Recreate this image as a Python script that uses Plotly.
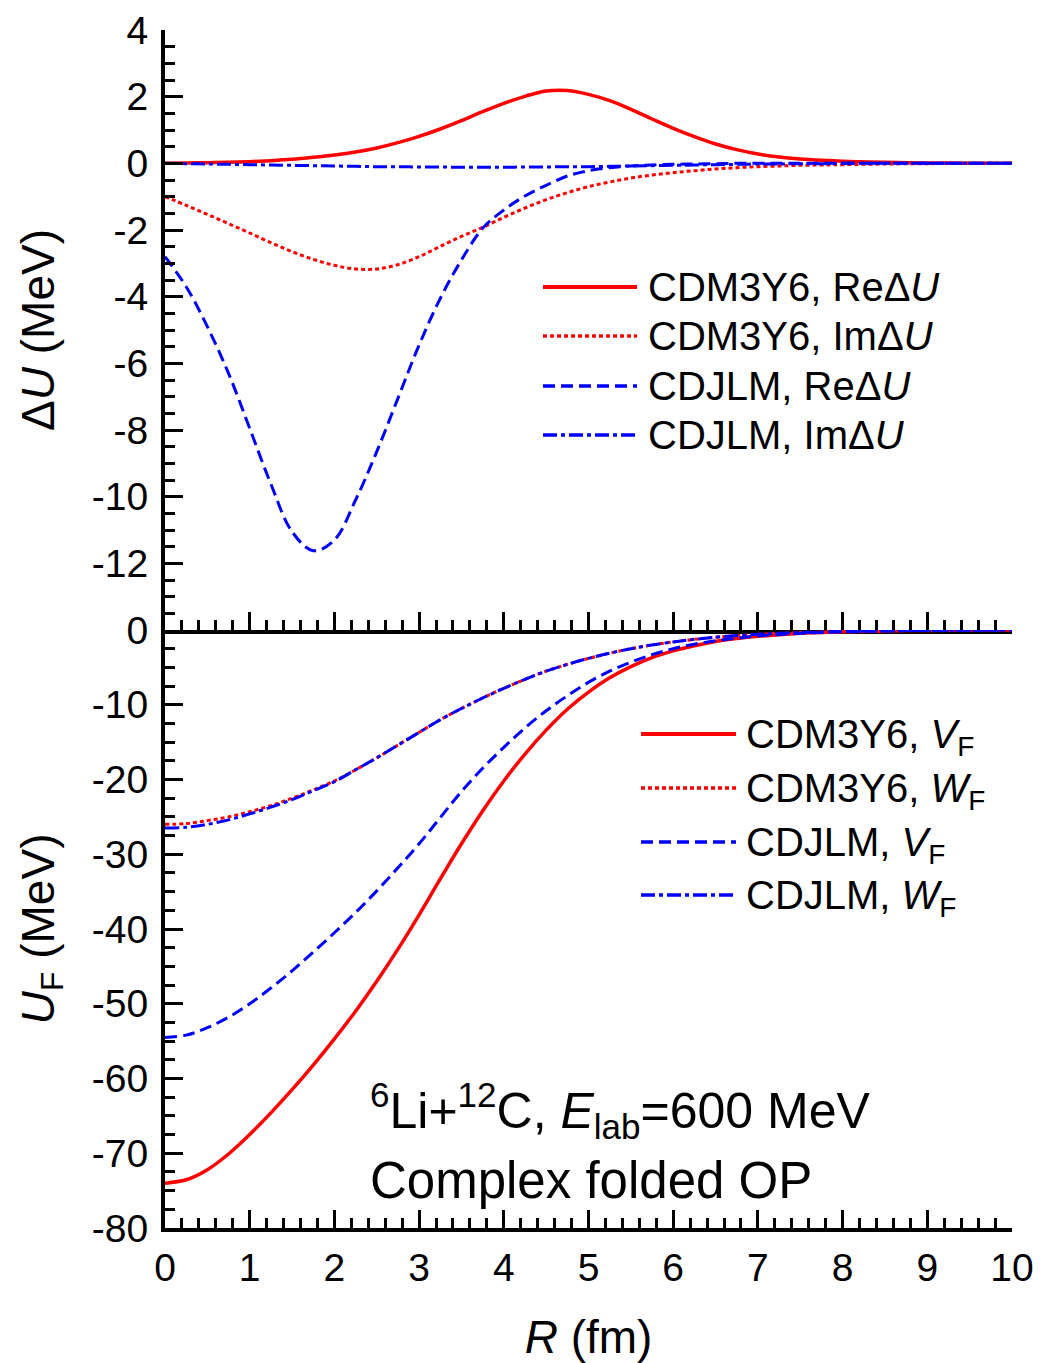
import plotly.graph_objects as go

# ---------------- data ----------------
R = [0, 0.25, 0.5, 0.75, 1, 1.25, 1.5, 1.75, 2, 2.25, 2.5, 2.75, 3, 3.25, 3.5, 3.75,
     4, 4.25, 4.5, 4.75, 5, 5.25, 5.5, 5.75, 6, 6.25, 6.5, 6.75, 7, 7.25, 7.5, 7.75,
     8, 8.5, 9, 9.5, 10]

# top panel: Delta U (MeV)
re_dU_cdm3y6 = [0.00, 0.01, 0.02, 0.03, 0.05, 0.08, 0.12, 0.18, 0.25, 0.34, 0.46, 0.62,
                0.81, 1.03, 1.28, 1.55, 1.80, 2.01, 2.17, 2.185, 2.07, 1.88, 1.62, 1.33,
                1.05, 0.80, 0.58, 0.41, 0.28, 0.19, 0.13, 0.09, 0.06, 0.03, 0.01, 0.005, 0.0]
im_dU_cdm3y6 = [-1.00, -1.26, -1.53, -1.81, -2.09, -2.38, -2.65, -2.88, -3.06, -3.17, -3.17,
                -3.04, -2.80, -2.49, -2.19, -1.92, -1.62, -1.34, -1.09, -0.88, -0.70, -0.56,
                -0.44, -0.35, -0.28, -0.22, -0.17, -0.13, -0.10, -0.08, -0.06, -0.05, -0.04,
                -0.02, -0.01, 0.0, 0.0]
re_dU_cdjlm = [-2.80, -3.70, -4.90, -6.30, -7.95, -9.62, -11.05, -11.62, -11.30, -10.10,
               -8.65, -7.05, -5.45, -4.05, -2.90, -1.95, -1.40, -0.98, -0.66, -0.38, -0.22,
               -0.13, -0.08, -0.05, -0.03, -0.02, -0.01, 0.0, 0.0, 0.0, 0.0, 0.0, 0.0,
               0.0, 0.0, 0.0, 0.0]
im_dU_cdjlm = [0.0, -0.01, -0.02, -0.03, -0.04, -0.05, -0.06, -0.07, -0.08, -0.09, -0.10,
               -0.10, -0.11, -0.11, -0.12, -0.12, -0.12, -0.11, -0.11, -0.10, -0.10, -0.09,
               -0.08, -0.07, -0.06, -0.05, -0.04, -0.03, -0.02, -0.02, -0.01, -0.01, 0.0,
               0.0, 0.0, 0.0, 0.0]

# bottom panel: folded potentials U_F (MeV)
V_cdm3y6 = [-74.0, -73.55, -72.2, -70.1, -67.5, -64.6, -61.5, -58.2, -54.7, -51.0, -47.0,
            -42.7, -38.1, -33.3, -28.6, -24.2, -20.2, -16.6, -13.4, -10.6, -8.3, -6.4,
            -4.9, -3.7, -2.8, -2.1, -1.55, -1.15, -0.84, -0.62, -0.45, -0.33, -0.24, -0.12,
            -0.06, -0.03, -0.01]
W_cdm3y6 = [-26.0, -25.9, -25.5, -25.0, -24.3, -23.5, -22.5, -21.4, -20.2, -18.7, -17.1,
            -15.4, -13.7, -12.0, -10.5, -9.1, -7.8, -6.6, -5.5, -4.6, -3.8, -3.1, -2.5,
            -2.0, -1.6, -1.25, -0.97, -0.75, -0.58, -0.45, -0.35, -0.27, -0.2, -0.11,
            -0.06, -0.03, -0.01]
V_cdjlm = [-54.5, -54.2, -53.2, -51.8, -50.0, -47.9, -45.6, -43.1, -40.5, -37.8, -34.9,
           -31.8, -28.6, -25.1, -21.6, -18.5, -15.7, -13.1, -10.8, -8.8, -7.0, -5.5, -4.3,
           -3.3, -2.5, -1.9, -1.45, -1.1, -0.8, -0.6, -0.45, -0.33, -0.24, -0.12, -0.06,
           -0.03, -0.01]
W_cdjlm = [-26.5, -26.4, -26.0, -25.4, -24.6, -23.7, -22.7, -21.5, -20.3, -18.7, -17.1,
           -15.4, -13.7, -12.0, -10.5, -9.1, -7.8, -6.6, -5.5, -4.6, -3.8, -3.1, -2.5,
           -2.0, -1.6, -1.25, -0.97, -0.75, -0.58, -0.45, -0.35, -0.27, -0.2, -0.11,
           -0.06, -0.03, -0.01]

top_labels = ["CDM3Y6, ReΔ<i>U</i>", "CDM3Y6, ImΔ<i>U</i>",
              "CDJLM, ReΔ<i>U</i>", "CDJLM, ImΔ<i>U</i>"]
bot_labels = ["CDM3Y6, <i>V</i><sub>F</sub>", "CDM3Y6, <i>W</i><sub>F</sub>",
              "CDJLM, <i>V</i><sub>F</sub>", "CDJLM, <i>W</i><sub>F</sub>"]

top_ticks = [-12, -10, -8, -6, -4, -2, 0, 2, 4]
top_ticktext = ["-12", "-10", "-8", "-6", "-4", "-2", "0", "2", "4"]
bot_ticks = [-80, -70, -60, -50, -40, -30, -20, -10, 0]
bot_ticktext = ["-80", "-70", "-60", "-50", "-40", "-30", "-20", "-10", "0"]

# ---------------- styling ----------------
FONT = "Liberation Sans, Arial, sans-serif"
OFF = 8                      # page body margin
W, H = 1048 - OFF, 1363 - OFF
RED, BLUE = "#ff0000", "#0000ff"
styles = [
    dict(color=RED, width=3.5, dash="solid"),
    dict(color=RED, width=3, dash="4px,3px"),
    dict(color=BLUE, width=3, dash="12px,6px"),
    dict(color=BLUE, width=3, dash="14px,4px,4px,4px"),
]


def pxx(x):
    return (x - OFF) / W


def pyy(y):
    return 1 - (y - OFF) / H


fig = go.Figure()
for ys, st, lab in zip([re_dU_cdm3y6, im_dU_cdm3y6, re_dU_cdjlm, im_dU_cdjlm], styles, top_labels):
    fig.add_trace(go.Scatter(x=R, y=ys, mode="lines", line=dict(shape="spline", smoothing=1.0, **st),
                             name=lab, xaxis="x", yaxis="y", showlegend=False))
for ys, st, lab in zip([V_cdm3y6, W_cdm3y6, V_cdjlm, W_cdjlm], styles, bot_labels):
    fig.add_trace(go.Scatter(x=R, y=ys, mode="lines", line=dict(shape="spline", smoothing=1.0, **st),
                             name=lab, xaxis="x2", yaxis="y2", showlegend=False))

tickfont = dict(family=FONT, size=39, color="black")
titlefont = dict(family=FONT, size=46, color="black")
common = dict(showline=True, linewidth=4, linecolor="black", ticks="inside", ticklen=18,
              tickwidth=3, tickcolor="black", showgrid=False, zeroline=False, tickfont=tickfont,
              automargin=False)
xdom = [pxx(165), pxx(1012)]
minor_common = dict(ticks="inside", ticklen=10, tickwidth=3, tickcolor="black", showgrid=False)

fig.update_layout(
    width=W, height=H, margin=dict(l=0, r=0, t=0, b=0),
    paper_bgcolor="white", plot_bgcolor="white", showlegend=False,
    font=dict(family=FONT, size=38, color="black"),
    xaxis=dict(domain=xdom, range=[0, 10], anchor="y", tick0=0, dtick=1,
               showticklabels=False,
               minor=dict(tick0=0, dtick=0.2, **minor_common), **common),
    yaxis=dict(domain=[pyy(630), pyy(30)], range=[-14, 4], anchor="x",
               tickmode="array", tickvals=top_ticks, ticktext=top_ticktext,
               ticklabelstandoff=5,
               minor=dict(tick0=0, dtick=0.5, **minor_common),
               title=dict(text="Δ<i>U</i> (MeV)", font=titlefont, standoff=24),
               **common),
    xaxis2=dict(domain=xdom, range=[0, 10], anchor="y2", tick0=0, dtick=1,
                ticklabelstandoff=2,
                minor=dict(tick0=0, dtick=0.2, **minor_common),
                title=dict(text="<i>R</i> (fm)", font=titlefont, standoff=34),
                **common),
    yaxis2=dict(domain=[pyy(1228), pyy(630)], range=[-80, 0], anchor="x2",
                tickmode="array", tickvals=bot_ticks, ticktext=bot_ticktext,
                ticklabelstandoff=5,
                minor=dict(tick0=0, dtick=2.5, **minor_common),
                title=dict(text="<i>U</i><sub>F</sub> (MeV)", font=titlefont, standoff=24),
                **common),
)

shapes = []
annotations = []
# top legend
top_rows = [287, 336, 386, 435]
for yv, st, lab in zip(top_rows, styles, top_labels):
    shapes.append(dict(type="line", xref="paper", yref="paper", x0=pxx(543), x1=pxx(637),
                       y0=pyy(yv), y1=pyy(yv), line=dict(color=st["color"], width=st["width"] + 0.5,
                                                        dash=st["dash"])))
    annotations.append(dict(xref="paper", yref="paper", x=pxx(646), y=pyy(yv), text=lab,
                            showarrow=False, xanchor="left", yanchor="middle",
                            font=dict(family=FONT, size=40, color="black")))
# bottom legend
bot_rows = [734, 788, 842, 895]
for yv, st, lab in zip(bot_rows, styles, bot_labels):
    shapes.append(dict(type="line", xref="paper", yref="paper", x0=pxx(641), x1=pxx(736),
                       y0=pyy(yv), y1=pyy(yv), line=dict(color=st["color"], width=st["width"] + 0.5,
                                                        dash=st["dash"])))
    annotations.append(dict(xref="paper", yref="paper", x=pxx(744), y=pyy(yv), text=lab,
                            showarrow=False, xanchor="left", yanchor="middle", yshift=-3,
                            font=dict(family=FONT, size=40, color="black")))

annotations.append(dict(xref="paper", yref="paper", x=pxx(368), y=pyy(1110),
                        text="<sup>6</sup>Li+<sup>12</sup>C, <i>E</i><sub>lab</sub>=600 MeV",
                        showarrow=False, xanchor="left", yanchor="middle",
                        font=dict(family=FONT, size=50, color="black")))
annotations.append(dict(xref="paper", yref="paper", x=pxx(368), y=pyy(1180),
                        text="Complex folded OP",
                        showarrow=False, xanchor="left", yanchor="middle",
                        font=dict(family=FONT, size=51, color="black")))

fig.update_layout(shapes=shapes, annotations=annotations)
fig.write_html("out.html")
